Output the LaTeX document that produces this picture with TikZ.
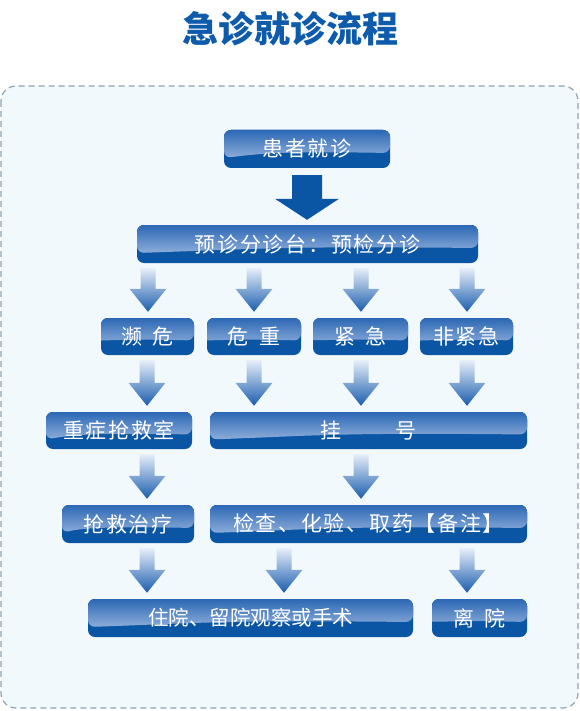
\documentclass[tikz,border=0pt]{standalone}
\usepackage{fontspec}
\newfontfamily\cjk[LetterSpace=8]{Noto Sans CJK SC}
\newfontfamily\cjkn{Noto Sans CJK SC}
\definecolor{boxdark}{HTML}{0A56A5}
\definecolor{glosstop}{HTML}{2C68B5}
\definecolor{glossbot}{HTML}{B0C6E6}
\definecolor{arrowtip}{HTML}{1A5DAE}
\definecolor{arrowtop}{HTML}{E6EEF9}
\definecolor{bgfill}{HTML}{F2F9FC}
\definecolor{bordercol}{HTML}{8CA3B8}
\definecolor{titleblue}{HTML}{0D5BAA}
\tikzset{
  gbox/.style={rounded corners=7pt, fill=boxdark, text=white, inner sep=0pt,
    font=\cjk\fontsize{21}{24}\selectfont, minimum height=37pt,
    path picture={
      \fill[top color=glosstop, bottom color=glossbot]
        (path picture bounding box.north west) -- (path picture bounding box.north east)
        -- ([yshift=-4pt]path picture bounding box.east)
        .. controls ([xshift=-30pt,yshift=-2pt]path picture bounding box.center) and ([xshift=-50pt,yshift=-5pt]path picture bounding box.center)
        .. ([yshift=-9pt]path picture bounding box.west) -- cycle;
    }},
  arrowfill/.style={top color=arrowtop, bottom color=arrowtip},
}
\newcommand\garrow[3]{%
  \path[arrowfill] let \p1=(#2.south), \p2=(#3.north) in
    ({#1pt-7.5pt},{\y1-5pt}) -- ({#1pt+7.5pt},{\y1-5pt}) -- ({#1pt+7.5pt},{\y2+29pt})
    -- ({#1pt+18.5pt},{\y2+29pt}) -- ({#1pt},{\y2+6pt}) -- ({#1pt-18.5pt},{\y2+29pt})
    -- ({#1pt-7.5pt},{\y2+29pt}) -- cycle;
}
\usetikzlibrary{calc}
\begin{document}
\begin{tikzpicture}[x=1pt,y=-1pt]
\useasboundingbox (0,0) rectangle (580,711);
\fill[white] (0,0) rectangle (580,711);
\draw[bordercol, line width=1.2pt, dash pattern=on 6pt off 4pt, fill=bgfill, rounded corners=15pt] (1,86) rectangle (578,708);

\node[font=\cjkn\bfseries\fontsize{36}{40}\selectfont, text=titleblue] (title) at (290,29) {急诊就诊流程};

\node[gbox, minimum width=166pt, minimum height=38pt] (p1) at (307,149) {患者就诊};
\node[gbox, minimum width=341pt, minimum height=38pt] (p2) at (307.5,244) {预诊分诊台：预检分诊};

\node[gbox, minimum width=93pt] (r1) at (147.5,336.5) {濒\hspace{11pt}危};
\node[gbox, minimum width=94pt] (r2) at (254,336.5) {危\hspace{11pt}重};
\node[gbox, minimum width=95pt] (r3) at (360.5,336.5) {紧\hspace{11pt}急};
\node[gbox, minimum width=93pt] (r4) at (466.5,336.5) {非紧急};

\node[gbox, minimum width=146pt] (s1) at (119,430.5) {重症抢救室};
\node[gbox, minimum width=317pt] (s2) at (368.5,430.5) {挂\hspace{54pt}号};

\node[gbox, minimum width=132pt, minimum height=38pt] (t1) at (128,524) {抢救治疗};
\node[gbox, minimum width=317pt, minimum height=38pt] (t2) at (368.5,524) {检查、化验、取药【备注】};

\node[gbox, minimum width=325pt, minimum height=38pt, font=\cjkn\fontsize{20.5}{24}\selectfont] (u1) at (250.5,618) {住院、留院观察或手术};
\node[gbox, minimum width=95pt, minimum height=38pt] (u2) at (479.5,618) {离\hspace{11pt}院};

% big arrow
\path[fill=boxdark] let \p1=(p1.south), \p2=(p2.north) in
  (292pt,{\y1-7pt}) -- (322pt,{\y1-7pt}) -- (322pt,{\y2+26pt}) -- (339pt,{\y2+26pt})
  -- (307pt,{\y2+5pt}) -- (275pt,{\y2+26pt}) -- (292pt,{\y2+26pt}) -- cycle;

\garrow{148}{p2}{r1}
\garrow{254}{p2}{r2}
\garrow{361}{p2}{r3}
\garrow{467}{p2}{r4}

\garrow{147}{r1}{s1}
\garrow{254}{r2}{s2}
\garrow{361}{r3}{s2}
\garrow{467}{r4}{s2}

\garrow{147}{s1}{t1}
\garrow{361}{s2}{t2}

\garrow{147}{t1}{u1}
\garrow{284}{t2}{u1}
\garrow{467}{t2}{u2}
\end{tikzpicture}
\end{document}
